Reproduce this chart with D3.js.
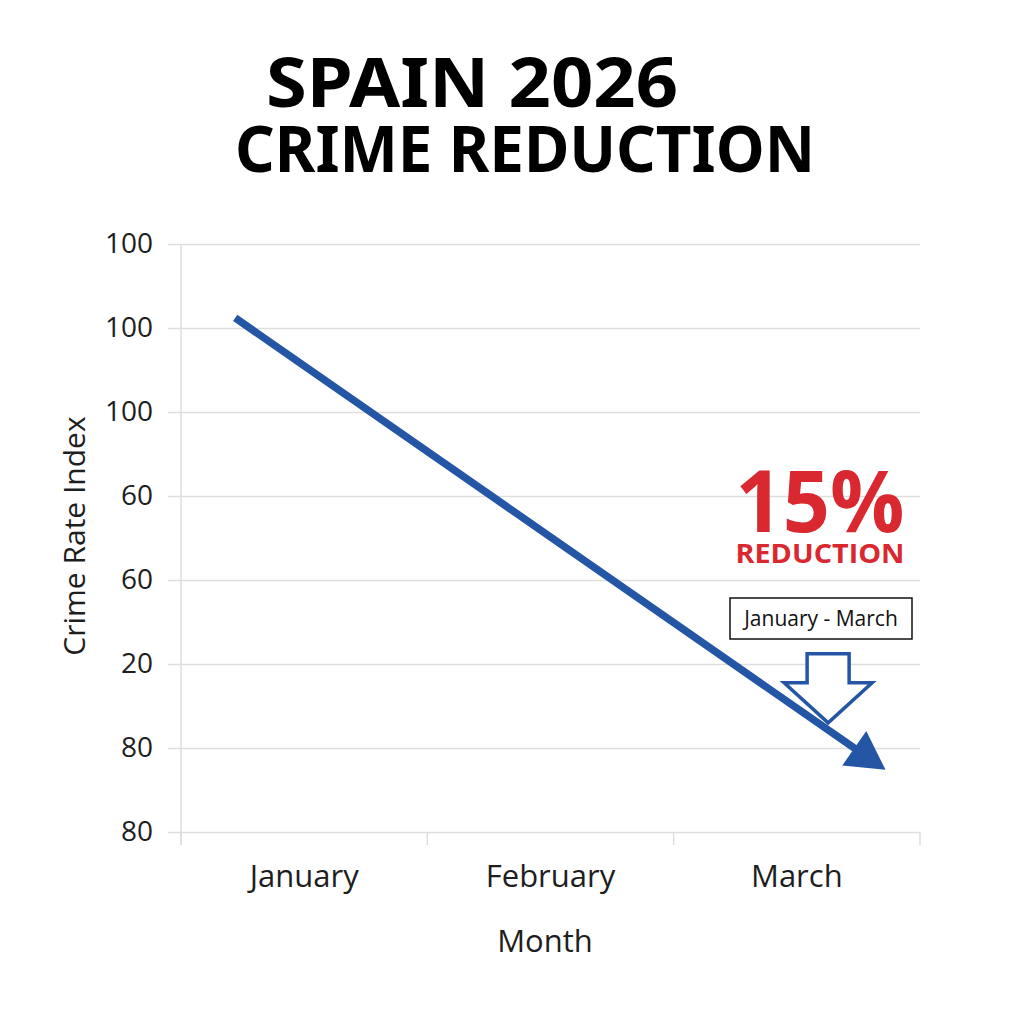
<!DOCTYPE html>
<html>
<head>
<meta charset="utf-8">
<script src="https://cdn.jsdelivr.net/npm/d3@7"></script>
<style>
  body { margin: 0; background: #fff; }
  svg { display: block; }
  .grid line { stroke: #dedede; stroke-width: 1.5; }
  .axis text { font-family: "Open Sans", sans-serif; fill: #1e1e1e; }
</style>
</head>
<body>
<script>
// chart values
var months = ["January", "February", "March"];
var tickValues = [100, 90, 80, 70, 60, 50, 40, 30];
var tickLabels = ["100", "100", "100", "60", "60", "20", "80", "80"];
// trend line, x in month units (0 = January), y in index units
var trendX = [-0.28, 2.36];
var trendY = [91.2, 37.4];

var width = 1024, height = 1024;
var blue = "#2556a6", red = "#d9282f";

var svg = d3.select("body").append("svg")
    .attr("width", width)
    .attr("height", height);

var plotLeft = 181, plotRight = 920, plotTop = 244, plotBottom = 832;

var x = d3.scaleBand().domain(months).range([plotLeft, plotRight]);
var xIdx = d3.scaleLinear().domain([-0.5, 2.5]).range([plotLeft, plotRight]);
var y = d3.scaleLinear().domain([30, 100]).range([plotBottom, plotTop]);

// title
svg.append("text")
    .attr("x", 266).attr("y", 107)
    .attr("textLength", 412).attr("lengthAdjust", "spacingAndGlyphs")
    .style("font-family", "'Noto Sans', sans-serif")
    .style("font-weight", 700).style("font-size", "68px")
    .text("SPAIN 2026");
svg.append("text")
    .attr("x", 235).attr("y", 172)
    .attr("textLength", 580).attr("lengthAdjust", "spacingAndGlyphs")
    .style("font-family", "'Noto Sans', sans-serif")
    .style("font-weight", 700).style("font-size", "64px")
    .text("CRIME REDUCTION");

// horizontal gridlines with y tick labels
var yAxis = d3.axisLeft(y)
    .tickValues(tickValues)
    .tickSize(-(plotRight - plotLeft) - 13)
    .tickPadding(15)
    .tickFormat(function(d, i) { return tickLabels[i]; });

var gy = svg.append("g")
    .attr("class", "axis grid")
    .attr("transform", "translate(" + (plotLeft - 13) + ",0)")
    .call(yAxis);
gy.select(".domain").remove();
gy.selectAll(".tick line").attr("x1", 0).attr("x2", plotRight - plotLeft + 13);
gy.selectAll("text").style("font-size", "28px");

// left vertical line
svg.append("line")
    .attr("x1", plotLeft).attr("x2", plotLeft)
    .attr("y1", plotTop).attr("y2", plotBottom + 13)
    .attr("stroke", "#dedede").attr("stroke-width", 1.5);

// bottom axis: tick marks at band edges, labels in the middle
var edges = months.map(function(m) { return x(m); }).concat([plotRight]);
svg.append("g").selectAll("line")
    .data(edges)
    .enter().append("line")
    .attr("x1", function(d) { return d; }).attr("x2", function(d) { return d; })
    .attr("y1", plotBottom).attr("y2", plotBottom + 13)
    .attr("stroke", "#dedede").attr("stroke-width", 1.5);

svg.append("g").attr("class", "axis").selectAll("text")
    .data(months)
    .enter().append("text")
    .attr("x", function(d) { return x(d) + x.bandwidth() / 2; })
    .attr("y", 887)
    .attr("text-anchor", "middle")
    .style("font-size", "31px")
    .text(function(d) { return d; });

// axis titles
svg.append("text")
    .attr("x", 545).attr("y", 952)
    .attr("text-anchor", "middle")
    .style("font-family", "'Open Sans', sans-serif")
    .style("font-size", "31px").style("fill", "#1e1e1e")
    .text("Month");

svg.append("text")
    .attr("transform", "translate(85,536) rotate(-90)")
    .attr("text-anchor", "middle")
    .style("font-family", "'Open Sans', sans-serif")
    .style("font-size", "30px").style("fill", "#1e1e1e")
    .text("Crime Rate Index");

// hollow down arrow (annotation), tip anchored in data units
var tipX = xIdx(2.127), tipY = y(43.0);
var hollow = [
    [tipX - 21, tipY - 69], [tipX + 21, tipY - 69], [tipX + 21, tipY - 40],
    [tipX + 44, tipY - 40], [tipX, tipY], [tipX - 44, tipY - 40],
    [tipX - 21, tipY - 40]
];
svg.append("path")
    .attr("d", d3.line()(hollow) + "Z")
    .attr("fill", "#fff")
    .attr("stroke", blue).attr("stroke-width", 3.5)
    .attr("stroke-linejoin", "miter");

// trend line with arrowhead
var p0 = [xIdx(trendX[0]), y(trendY[0])];
var p1 = [xIdx(trendX[1]), y(trendY[1])];
var dx = p1[0] - p0[0], dy = p1[1] - p0[1];
var len = Math.sqrt(dx * dx + dy * dy);
var ux = dx / len, uy = dy / len;
var headLen = 38, headHalf = 21;
var base = [p1[0] - ux * headLen, p1[1] - uy * headLen];

svg.append("path")
    .attr("d", d3.line()([p0, [base[0] + ux * 4, base[1] + uy * 4]]))
    .attr("stroke", blue).attr("stroke-width", 7.5)
    .attr("fill", "none");

svg.append("path")
    .attr("d", d3.line()([
        p1,
        [base[0] - uy * headHalf, base[1] + ux * headHalf],
        [base[0] + uy * headHalf, base[1] - ux * headHalf]
    ]) + "Z")
    .attr("fill", blue);

// percentage callout
svg.append("text")
    .attr("x", 820).attr("y", 532)
    .attr("text-anchor", "middle")
    .attr("textLength", 169).attr("lengthAdjust", "spacingAndGlyphs")
    .style("font-family", "'Open Sans', sans-serif")
    .style("font-weight", 700).style("font-size", "86px")
    .style("fill", red)
    .text("15%");
svg.append("text")
    .attr("x", 820).attr("y", 563)
    .attr("text-anchor", "middle")
    .attr("textLength", 169).attr("lengthAdjust", "spacingAndGlyphs")
    .style("font-family", "'Open Sans', sans-serif")
    .style("font-weight", 700).style("font-size", "27px")
    .style("fill", red)
    .text("REDUCTION");

// period box
svg.append("rect")
    .attr("x", 730).attr("y", 598)
    .attr("width", 182).attr("height", 41)
    .attr("fill", "#fff")
    .attr("stroke", "#111").attr("stroke-width", 1.5);
svg.append("text")
    .attr("x", 821).attr("y", 626)
    .attr("text-anchor", "middle")
    .style("font-family", "'Open Sans', sans-serif")
    .style("font-size", "21px").style("fill", "#111")
    .text("January - March");
</script>
</body>
</html>
